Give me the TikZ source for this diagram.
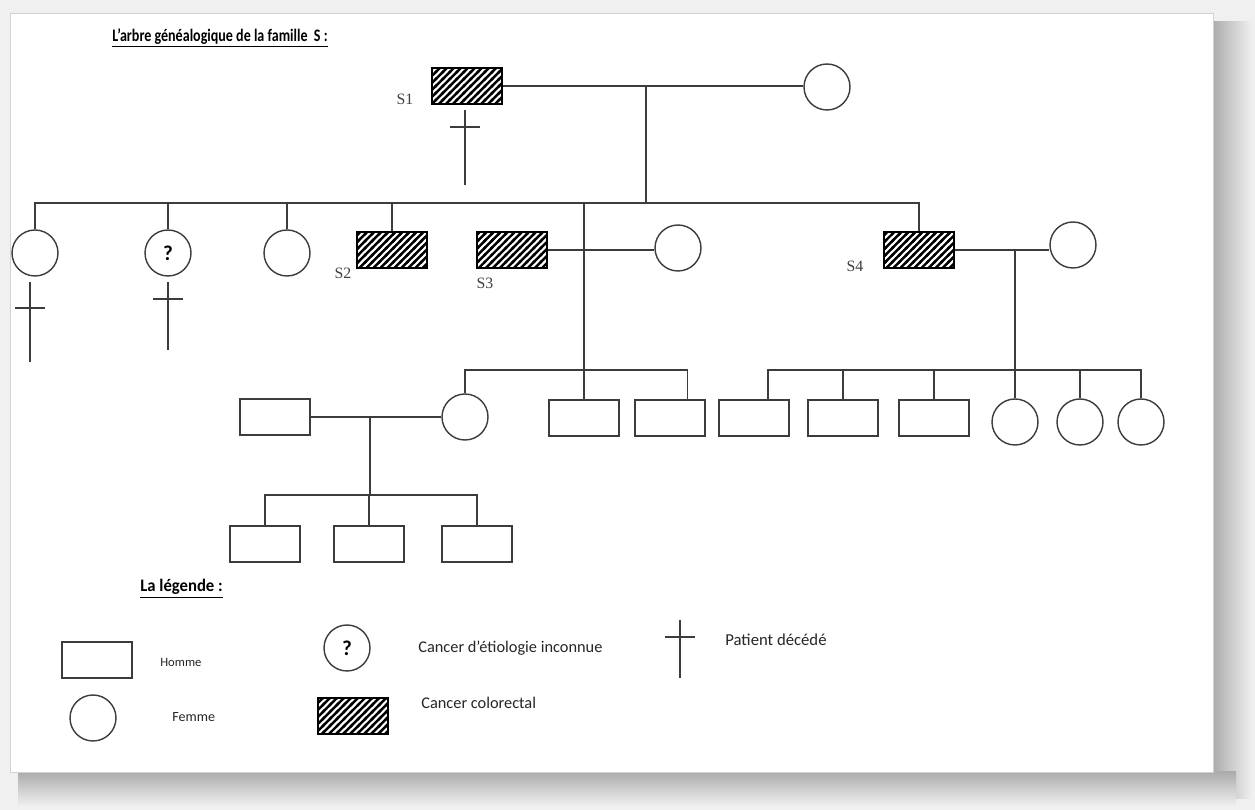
\documentclass[tikz,border=0pt]{standalone}
\usepackage{fontspec}
\setmainfont{Carlito}
\newfontfamily\timesfont{Liberation Serif}
\usetikzlibrary{calc,patterns}
\definecolor{trait}{RGB}{60,60,60}
\pgfdeclarepatternformonly{hachures}{\pgfqpoint{-1pt}{-1pt}}{\pgfqpoint{5pt}{5pt}}{\pgfqpoint{4pt}{4pt}}{%
  \pgfsetlinewidth{1.4pt}%
  \pgfpathmoveto{\pgfqpoint{-1pt}{-1pt}}%
  \pgfpathlineto{\pgfqpoint{5pt}{5pt}}%
  \pgfusepath{stroke}}
\def\croix(#1,#2:#3:#4){\draw[lien] (#1,#2) -- ++(0,#3); \draw[lien] ($(#1,#2)+(-15,#4)$) -- ++(30,0);}

\begin{document}
\begin{tikzpicture}[x=0.02cm, y=-0.02cm,
  lien/.style={draw=trait, line width=0.8pt},
  homme/.style={draw=trait, line width=0.9pt, rectangle, minimum width=1.4cm, minimum height=0.72cm, inner sep=0pt},
  femme/.style={draw=trait, line width=0.8pt, circle, minimum size=0.92cm, inner sep=0pt},
  atteint/.style={homme, draw=black, pattern=hachures},
  repere/.style={font=\timesfont\small, text=black!75},
  legende/.style={anchor=west, inner sep=0pt, text=black!85}]
		%%%%% FOND %%%%%
		\useasboundingbox (0,0) rectangle (1255,810);
		\fill[gray!12] (0,0) rectangle (1255,810);
		\shade[left color=gray!65, right color=gray!12] (1213,22) rectangle (1252,798);
		\shade[top color=gray!65, bottom color=gray!12] (18,772) rectangle (1236,806);
		\fill[white] (10,13) rectangle (1213,772);
		\draw[gray!35] (10,13) rectangle (1213,772);
		
		\node[anchor=west, inner sep=0pt, font=\bfseries\normalsize] (titre) at (112,38) {\scalebox{0.8}[1]{\underline{L’arbre généalogique de la famille\ \ S :}}};
		
		%%%%% GENERATION I %%%%%
		\node[atteint] (s1) at (467,86) {};
		\node[repere] (s1lab) at (405,99) {S1};
		\node[femme] (s1f) at (827,87) {};
		\draw[lien] (s1.east) -- (s1f.west |- s1.east);
		\coordinate (fratrie) at (646,203);
		\draw[lien] (s1.east -| fratrie) -- (fratrie);
		\croix(465,110:75:17)
		
		%%%%% GENERATION II %%%%%
		\node[femme] (f1) at (35,253) {};
		\node[femme, font=\bfseries\large] (f2) at (168,253) {?};
		\node[femme] (f3) at (287,253) {};
		\node[atteint] (s2) at (392,250) {};
		\node[atteint] (s3) at (512,250) {};
		\node[femme] (s3f) at (678,248) {};
		\node[atteint] (s4) at (919,250) {};
		\node[femme] (s4f) at (1073,245) {};
		\node[repere] (s2lab) at (343,273) {S2};
		\node[repere] (s3lab) at (485,283) {S3};
		\node[repere] (s4lab) at (855,266) {S4};
		
		\draw[lien] (f1.north) |- (fratrie) -| (s4.north);
		\foreach \n in {f2,f3,s2}
			\draw[lien] (\n.north) -- (\n.north |- fratrie);
		\draw[lien] (s3.east) -- (s3f.west |- s3.east);
		\draw[lien] (s4.east) -- (s4f.west |- s4.east);
		\croix(30,282:80:26)
		\croix(168,282:68:17)
		
		%%%%% GENERATION III (S3) %%%%%
		\node[homme] (p1m) at (275,417) {};
		\node[femme] (p1) at (465,417) {};
		\node[homme] (p2) at (584,418) {};
		\node[homme] (p3) at (670,418) {};
		\coordinate (fr3) at (584,370);
		\coordinate (p3j) at ([xshift=0.35cm]p3.north);
		\draw[lien] (p2.north) -- (p2.north |- fratrie);
		\draw[lien] (p1.north) |- (fr3) -| (p3j);
		\draw[lien] (p1m.east) -- (p1.west);
		
		\coordinate (c1) at (370,417);
		\coordinate (fr4) at (370,495);
		\draw[lien] (c1) -- (fr4);
		\node[homme] (q1) at (265,544) {};
		\node[homme] (q2) at (369,544) {};
		\node[homme] (q3) at (477,544) {};
		\draw[lien] (q1.north) |- (fr4) -| (q3.north);
		\draw[lien] (q2.north) -- (q2.north |- fr4);
		
		%%%%% GENERATION III (S4) %%%%%
		\node[homme] (r1) at (754,418) {};
		\node[homme] (r2) at (843,418) {};
		\node[homme] (r3) at (934,418) {};
		\node[femme] (r4) at (1015,422) {};
		\node[femme] (r5) at (1080,422) {};
		\node[femme] (r6) at (1141,422) {};
		\coordinate (c2) at (s4.east -| r4);
		\coordinate (fr5) at (1015,370);
		\coordinate (r1j) at ([xshift=0.28cm]r1.north);
		\draw[lien] (c2) -- (r4.north);
		\draw[lien] (r1j) |- (fr5) -| (r6.north);
		\foreach \n in {r2,r3,r5}
			\draw[lien] (\n.north) -- (\n.north |- fr5);
		
		%%%%% LEGENDE %%%%%
		\node[anchor=west, inner sep=0pt, font=\bfseries\normalsize] (leg) at (140,589) {\scalebox{0.95}[1]{\underline{La légende :}}};
		\node[homme] (lh) at (97,660) {};
		\node[legende, font=\fontsize{7.2}{9}\selectfont] (lhtxt) at (160,662) {Homme};
		\node[femme] (lf) at (93,718) {};
		\node[legende, font=\footnotesize] (lftxt) at (172,717) {Femme};
		\node[femme, font=\bfseries\large] (lq) at (347,648) {?};
		\node[legende, font=\fontsize{9.3}{11}\selectfont] (lqtxt) at (418,648) {Cancer d’étiologie inconnue};
		\node[atteint] (la) at (353,716) {};
		\node[legende, font=\fontsize{9.3}{11}\selectfont] (latxt) at (421,703) {Cancer colorectal};
		\croix(680,620:58:17)
		\node[legende, font=\fontsize{9.5}{11}\selectfont] (lctxt) at (725,640) {Patient décédé};
\end{tikzpicture}
\end{document}
